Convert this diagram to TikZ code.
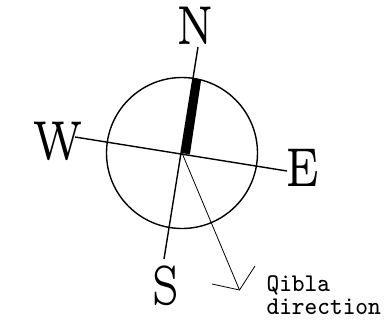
\documentclass[tikz,border=0pt]{standalone}
\begin{document}
\begin{tikzpicture}[x=1bp,y=-1bp,
  axis/.style={line width=1.4bp},
  qline/.style={line width=0.8bp},
  dirlabel/.style={inner sep=0pt, font=\fontsize{5}{5}\selectfont, xscale=7.7, yscale=11},
  qlabel/.style={inner sep=0pt, anchor=base west, align=left, font=\ttfamily\fontsize{8}{7.2}\selectfont, xscale=3.0, yscale=3.2}]
\useasboundingbox (0,0) rectangle (386,334);
\coordinate (C) at (182,153);
\coordinate (Nend) at (198,47);
\coordinate (Send) at (164,259);
\coordinate (Wend) at (75,137);
\coordinate (Eend) at (287,171);
\coordinate (Q) at (239.5,290);
\coordinate (Qa) at (255,266);
\coordinate (Qb) at (212,284);
\draw[axis] (C) circle (75.5);
\draw[axis] (Nend) -- (Send);
\draw[axis] (Wend) -- (Eend);
\fill (181.5,153) -- (192.8,78.3) -- (201.2,79.5) -- (189.9,154.3) -- cycle;
\draw[qline] (C) -- (Q);
\draw[qline] (Qa) -- (Q) -- (Qb);
\node[dirlabel] (N) at (195,26) {N};
\node[dirlabel] (S) at (166,286) {S};
\node[dirlabel] (W) at (58,141) {W};
\node[dirlabel] (E) at (303,168) {E};
\node[qlabel] (T) at (266,314) {Qibla\\direction};
\end{tikzpicture}
\end{document}
